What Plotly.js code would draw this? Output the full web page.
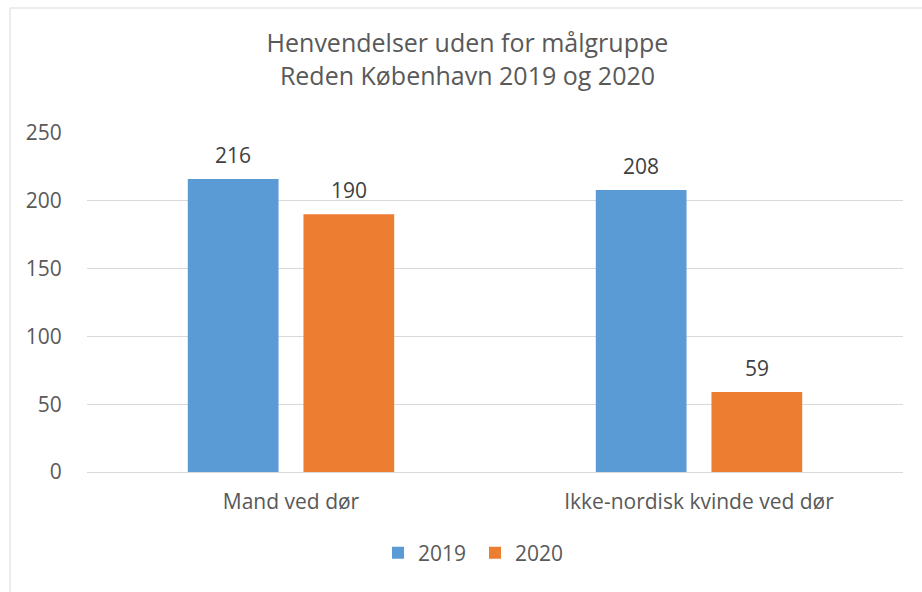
<!DOCTYPE html>
<html>
<head>
<meta charset="utf-8">
<script src="https://cdn.plot.ly/plotly-3.0.1.min.js"></script>
<style>html,body{margin:0;padding:0;background:#fff;}#chart{width:922px;height:592px;}</style>
</head>
<body>
<div id="chart"></div>
<script>
const categories = ["Mand ved dør", "Ikke-nordisk kvinde ved dør"];
const series2019 = [216, 208];
const series2020 = [190, 59];
const seriesNames = ["2019", "2020"];
const titleLines = ["Henvendelser uden for målgruppe", "Reden København 2019 og 2020"];

const FONT = "Open Sans, sans-serif";
const TXT = "#595959";
const BARGAP = 0.433;
const colors = ["#5B9BD5", "#ED7D31"];
const allSeries = [series2019, series2020];

const traces = allSeries.map((vals, s) => ({
  type: "bar", name: seriesNames[s], x: categories, y: vals,
  marker: {color: colors[s]}, hoverinfo: "none"
}));

// data labels as annotations placed over each bar (group offset from bargap)
const slot = (1 - BARGAP) / 2;
const annotations = [];
allSeries.forEach((vals, s) => {
  vals.forEach((v, i) => {
    annotations.push({
      xref: "x", yref: "y", x: i + (s - 0.5) * slot, y: v, text: String(v),
      showarrow: false, yanchor: "bottom", yshift: 8,
      font: {family: FONT, size: 21, color: "#404040"}
    });
  });
});

const L = 87, R = 19, T = 133, B = 120;
const PW = 922 - L - R, PH = 592 - T - B;

const layout = {
  width: 922, height: 592,
  margin: {l: L, r: R, t: T, b: B},
  paper_bgcolor: "#fff", plot_bgcolor: "#fff",
  font: {family: FONT, color: TXT, size: 21},
  title: {text: titleLines.join("<br>"), x: 0.507, xanchor: "center", y: 0.912, yanchor: "top",
          font: {family: FONT, size: 25, color: TXT}},
  barmode: "group", bargap: BARGAP, bargroupgap: 0.2155,
  showlegend: true,
  legend: {orientation: "h", x: (475 - L) / PW, xanchor: "center", y: (T + PH - 553) / PH, yanchor: "middle",
           font: {family: FONT, size: 21, color: TXT}, itemwidth: 30, entrywidth: 52, traceorder: "normal"},
  xaxis: {type: "category", showgrid: false, showline: true, linecolor: "#d9d9d9", linewidth: 1,
          ticks: "outside", ticklen: 11, tickcolor: "rgba(0,0,0,0)",
          tickfont: {family: FONT, size: 21, color: TXT}, fixedrange: true},
  yaxis: {range: [0, 250], dtick: 50, tick0: 0, showgrid: true, gridcolor: "#d9d9d9", gridwidth: 1,
          zeroline: false, showline: false, ticks: "outside", ticklen: 20, tickcolor: "rgba(0,0,0,0)",
          tickfont: {family: FONT, size: 21, color: TXT}, fixedrange: true},
  annotations: annotations,
  shapes: [{type: "rect", xref: "paper", yref: "paper",
            x0: (10 - L) / PW, x1: (935 - L) / PW, y0: (T + PH - 600) / PH, y1: (T + PH - 8) / PH,
            line: {color: "#d9d9d9", width: 1}, fillcolor: "rgba(0,0,0,0)", layer: "below"}]
};

Plotly.newPlot("chart", traces, layout, {displayModeBar: false, staticPlot: true});
</script>
</body>
</html>
